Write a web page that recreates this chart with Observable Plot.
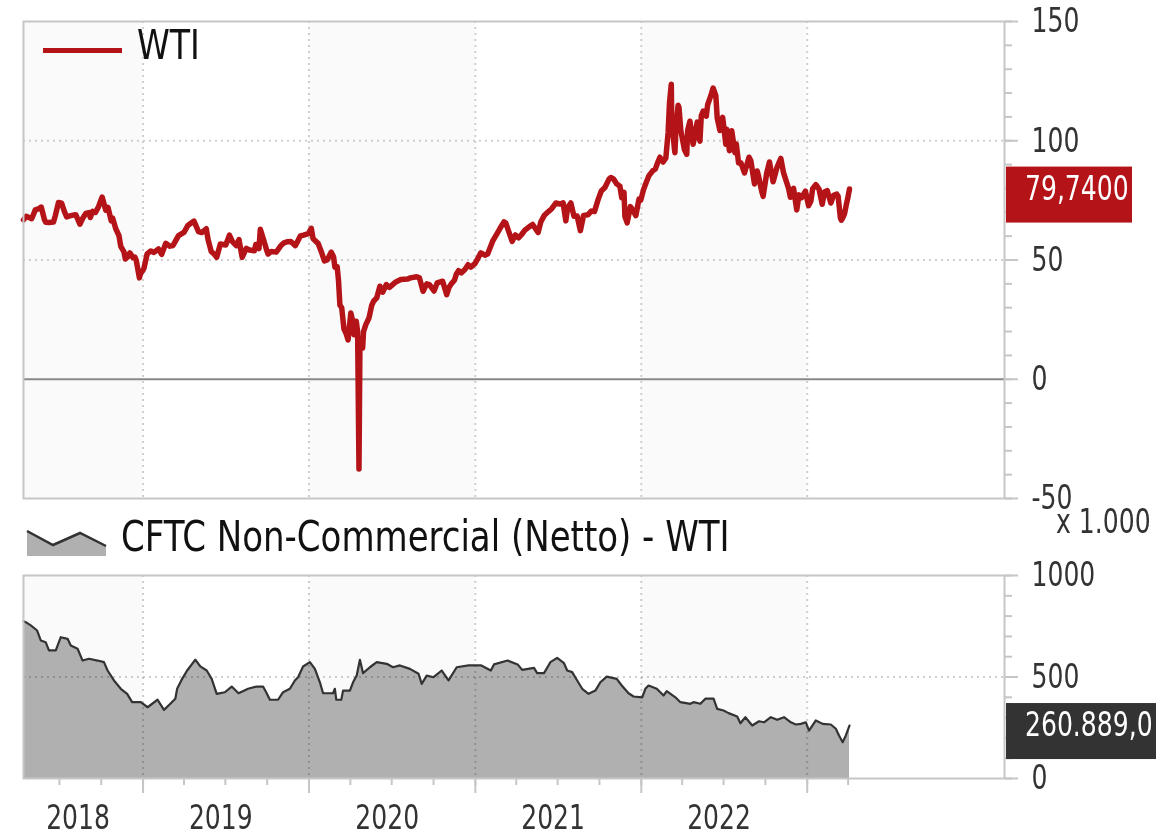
<!DOCTYPE html>
<html>
<head>
<meta charset="utf-8">
<script src="https://cdn.jsdelivr.net/npm/d3@7"></script>
<script src="https://cdn.jsdelivr.net/npm/@observablehq/plot@0.6"></script>
<style>
  body { margin: 0; background: #fff; }
  #wrap { position: relative; width: 1168px; height: 835px; overflow: hidden; background: #fff; }
  #wrap > svg { position: absolute; left: 0; }
</style>
</head>
<body>
<div id="wrap"></div>
<script>
const FONT = '"DejaVu Sans Condensed", "DejaVu Sans", sans-serif';

// ---------- data ----------
const wtiSeries = [
  ["2018-04-13",66.8],["2018-04-19",68.3],["2018-04-25",67.8],["2018-05-01",67.3],["2018-05-09",71.0],
  ["2018-05-17",71.5],["2018-05-22",72.2],["2018-05-29",67.0],["2018-06-01",65.8],["2018-06-08",65.7],
  ["2018-06-18",65.9],["2018-06-22",68.6],["2018-06-29",74.1],["2018-07-06",73.8],["2018-07-12",70.3],
  ["2018-07-17",68.1],["2018-07-24",68.5],["2018-07-31",68.8],["2018-08-06",69.0],["2018-08-15",65.0],
  ["2018-08-21",67.4],["2018-08-28",69.5],["2018-09-04",69.9],["2018-09-07",67.8],["2018-09-12",70.4],
  ["2018-09-18",69.9],["2018-09-25",72.3],["2018-10-03",76.4],["2018-10-11",70.9],["2018-10-16",72.0],
  ["2018-10-23",66.4],["2018-10-26",67.6],["2018-11-02",63.1],["2018-11-09",60.2],["2018-11-13",55.7],
  ["2018-11-20",53.4],["2018-11-23",50.4],["2018-11-29",51.5],["2018-12-03",53.0],["2018-12-10",51.0],
  ["2018-12-14",51.2],["2018-12-17",49.9],["2018-12-21",45.6],["2018-12-24",42.5],["2018-12-27",44.6],
  ["2018-12-31",45.4],
  ["2019-01-03",46.5],["2019-01-10",52.6],["2019-01-18",53.8],["2019-01-25",53.2],["2019-02-04",54.6],
  ["2019-02-11",52.4],["2019-02-20",57.0],["2019-03-01",55.8],["2019-03-08",56.1],["2019-03-20",60.2],
  ["2019-04-01",61.6],["2019-04-10",64.6],["2019-04-23",66.3],["2019-05-03",61.9],["2019-05-10",61.5],
  ["2019-05-20",63.1],["2019-05-24",58.6],["2019-05-31",53.5],["2019-06-06",52.6],["2019-06-12",51.1],
  ["2019-06-20",56.7],["2019-07-02",56.3],["2019-07-10",60.4],["2019-07-17",57.6],["2019-07-25",56.0],
  ["2019-07-31",58.6],["2019-08-07",51.1],["2019-08-16",54.9],["2019-08-23",54.2],["2019-09-03",53.9],
  ["2019-09-06",56.5],["2019-09-13",54.8],["2019-09-16",62.9],["2019-09-23",58.6],["2019-09-30",54.1],
  ["2019-10-03",52.5],["2019-10-10",53.6],["2019-10-21",53.3],["2019-11-01",56.2],["2019-11-07",57.2],
  ["2019-11-15",57.7],["2019-11-22",57.8],["2019-12-02",56.0],["2019-12-13",60.1],["2019-12-20",60.4],
  ["2019-12-31",61.1],
  ["2020-01-06",63.3],["2020-01-10",59.0],["2020-01-15",58.0],["2020-01-21",57.0],["2020-01-29",53.0],
  ["2020-02-04",49.6],["2020-02-10",50.0],["2020-02-19",53.3],["2020-02-24",51.4],["2020-02-27",47.0],
  ["2020-03-03",47.2],["2020-03-06",41.3],["2020-03-09",31.1],["2020-03-13",30.0],["2020-03-18",21.0],
  ["2020-03-23",19.0],["2020-03-27",16.5],["2020-04-02",27.8],["2020-04-06",24.5],["2020-04-09",18.7],
  ["2020-04-14",24.3],["2020-04-17",20.0],["2020-04-20",-37.6],["2020-04-22",13.0],["2020-04-24",17.0],
  ["2020-04-28",13.1],["2020-04-30",20.0],["2020-05-05",22.9],["2020-05-12",25.7],["2020-05-18",31.0],
  ["2020-05-22",32.7],["2020-05-29",34.1],["2020-06-05",39.0],["2020-06-11",36.5],["2020-06-19",39.7],
  ["2020-06-26",38.5],["2020-07-10",40.8],["2020-07-21",41.8],["2020-08-05",42.0],["2020-08-11",42.5],
  ["2020-08-25",43.0],["2020-08-31",42.5],["2020-09-08",36.9],["2020-09-16",40.0],["2020-09-22",39.7],
  ["2020-10-02",37.0],["2020-10-09",40.4],["2020-10-21",41.1],["2020-10-30",35.5],["2020-11-04",38.5],
  ["2020-11-09",40.0],["2020-11-16",41.5],["2020-11-20",44.0],["2020-11-25",45.5],["2020-12-01",44.6],
  ["2020-12-09",46.0],["2020-12-16",48.0],["2020-12-22",47.0],["2020-12-31",48.5],
  ["2021-01-06",50.5],["2021-01-13",53.0],["2021-01-22",52.0],["2021-01-28",52.5],["2021-02-08",57.9],
  ["2021-02-19",61.5],["2021-02-25",63.5],["2021-03-05",66.0],["2021-03-09",65.5],["2021-03-18",60.5],
  ["2021-03-23",57.8],["2021-03-30",60.5],["2021-04-06",59.3],["2021-04-12",60.5],["2021-04-20",62.5],
  ["2021-04-30",64.0],["2021-05-07",64.9],["2021-05-19",61.5],["2021-05-25",66.0],["2021-06-02",68.8],
  ["2021-06-10",70.2],["2021-06-18",71.5],["2021-06-27",73.9],["2021-07-06",73.5],["2021-07-13",74.0],
  ["2021-07-19",66.4],["2021-07-23",72.0],["2021-07-30",73.9],["2021-08-06",68.3],["2021-08-13",68.4],
  ["2021-08-20",62.3],["2021-08-27",68.7],["2021-09-06",69.0],["2021-09-13",70.5],["2021-09-20",70.3],
  ["2021-09-28",75.3],["2021-10-05",78.9],["2021-10-13",80.4],["2021-10-22",83.9],["2021-10-26",84.6],
  ["2021-11-01",84.0],["2021-11-08",81.9],["2021-11-15",80.9],["2021-11-19",76.1],["2021-11-24",78.4],
  ["2021-11-26",68.2],["2021-12-01",65.6],["2021-12-08",72.4],["2021-12-14",70.7],["2021-12-20",68.6],
  ["2021-12-27",75.6],["2021-12-31",75.2],
  ["2022-01-06",79.5],["2022-01-12",82.6],["2022-01-18",85.4],["2022-01-26",87.4],["2022-02-01",88.2],
  ["2022-02-07",91.3],["2022-02-11",93.1],["2022-02-18",91.1],["2022-02-24",92.8],["2022-03-01",103.4],
  ["2022-03-04",115.7],["2022-03-08",123.7],["2022-03-09",108.7],["2022-03-15",96.4],["2022-03-16",95.0],
  ["2022-03-18",104.7],["2022-03-23",114.9],["2022-03-25",113.9],["2022-03-29",104.2],["2022-04-06",96.2],
  ["2022-04-11",94.3],["2022-04-13",104.3],["2022-04-18",108.2],["2022-04-25",98.5],["2022-05-04",107.8],
  ["2022-05-10",99.8],["2022-05-13",110.5],["2022-05-17",112.4],["2022-05-24",110.3],["2022-05-27",115.1],
  ["2022-06-03",118.9],["2022-06-08",122.1],["2022-06-14",118.9],["2022-06-17",109.6],["2022-06-23",104.3],
  ["2022-06-29",109.8],["2022-07-06",98.5],["2022-07-08",104.8],["2022-07-14",95.8],["2022-07-19",104.2],
  ["2022-07-26",95.0],["2022-07-29",98.6],["2022-08-03",90.7],["2022-08-08",90.8],["2022-08-16",86.5],
  ["2022-08-26",93.1],["2022-08-30",91.6],["2022-09-07",81.9],["2022-09-13",87.3],["2022-09-16",85.1],
  ["2022-09-23",78.7],["2022-09-26",76.7],["2022-10-04",86.5],["2022-10-10",91.1],["2022-10-18",82.8],
  ["2022-10-27",89.1],["2022-11-04",92.6],["2022-11-10",86.5],["2022-11-21",80.0],["2022-11-25",76.3],
  ["2022-12-02",80.0],["2022-12-09",71.0],["2022-12-14",77.3],["2022-12-20",76.2],["2022-12-28",78.9],
  ["2023-01-04",72.8],["2023-01-09",74.6],["2023-01-13",79.9],["2023-01-20",81.6],["2023-01-27",79.7],
  ["2023-02-03",73.4],["2023-02-08",78.5],["2023-02-14",79.1],["2023-02-22",73.9],["2023-02-28",77.1],
  ["2023-03-07",77.6],["2023-03-10",76.7],["2023-03-15",67.6],["2023-03-17",66.7],["2023-03-20",67.6],
  ["2023-03-24",69.3],["2023-03-28",73.2],["2023-03-31",75.7],["2023-04-04",79.74]
];

// CFTC non-commercial net positions, in thousands of contracts
const cftcSeries = [
  ["2018-04-13",775],["2018-04-18",770],["2018-04-29",754],["2018-05-13",729],["2018-05-21",680],
  ["2018-06-01",671],["2018-06-08",631],["2018-06-23",631],["2018-07-04",696],["2018-07-19",688],
  ["2018-07-26",655],["2018-08-10",639],["2018-08-21",581],["2018-09-04",590],["2018-09-23",581],
  ["2018-10-07",573],["2018-10-15",532],["2018-10-29",483],["2018-11-13",442],["2018-11-27",417],
  ["2018-12-08",376],["2018-12-27",376],
  ["2019-01-11",351],["2019-02-02",388],["2019-02-16",338],["2019-03-02",368],["2019-03-13",393],
  ["2019-03-17",442],["2019-03-28",491],["2019-04-08",532],["2019-04-19",565],["2019-04-26",585],
  ["2019-05-07",552],["2019-05-21",532],["2019-06-01",491],["2019-06-12",417],["2019-06-30",425],
  ["2019-07-15",453],["2019-07-30",420],["2019-08-20",442],["2019-09-08",453],["2019-09-22",453],
  ["2019-09-30",420],["2019-10-07",388],["2019-10-25",388],["2019-11-05",425],["2019-11-20",442],
  ["2019-12-01",483],["2019-12-08",499],["2019-12-19",552],
  ["2020-01-03",573],["2020-01-14",540],["2020-01-25",474],["2020-02-01",420],["2020-02-23",420],
  ["2020-02-27",442],["2020-03-01",388],["2020-03-12",388],["2020-03-16",433],["2020-03-31",433],
  ["2020-04-07",474],["2020-04-15",507],["2020-04-22",585],["2020-04-29",519],["2020-05-14",548],
  ["2020-05-29",573],["2020-06-20",565],["2020-07-04",548],["2020-07-19",557],["2020-08-10",540],
  ["2020-08-29",516],["2020-09-05",466],["2020-09-16",507],["2020-10-01",499],["2020-10-19",532],
  ["2020-11-03",483],["2020-11-21",548],["2020-12-17",557],
  ["2021-01-14",557],["2021-02-04",532],["2021-02-11",562],["2021-03-13",581],["2021-04-04",562],
  ["2021-04-14",535],["2021-05-10",545],["2021-05-17",519],["2021-06-01",519],["2021-06-15",573],
  ["2021-06-30",594],["2021-07-15",568],["2021-07-22",532],["2021-08-02",524],["2021-08-13",483],
  ["2021-08-24",442],["2021-09-07",417],["2021-09-22",433],["2021-10-03",474],["2021-10-17",502],
  ["2021-11-08",491],["2021-11-19",458],["2021-12-04",420],["2021-12-15",404],
  ["2022-01-03",400],["2022-01-10",442],["2022-01-17",458],["2022-02-04",442],["2022-02-19",409],
  ["2022-02-26",430],["2022-03-17",400],["2022-03-28",376],["2022-04-19",368],["2022-04-26",376],
  ["2022-05-11",368],["2022-05-22",393],["2022-06-09",393],["2022-06-17",343],["2022-07-01",335],
  ["2022-07-12",322],["2022-07-31",305],["2022-08-07",272],["2022-08-18",302],["2022-09-02",261],
  ["2022-09-17",282],["2022-09-28",277],["2022-10-13",302],["2022-10-27",289],["2022-11-11",302],
  ["2022-11-26",277],["2022-12-07",266],["2022-12-18",269],["2022-12-29",277],
  ["2023-01-05",236],["2023-01-20",286],["2023-02-04",269],["2023-02-22",266],["2023-03-05",245],
  ["2023-03-12",212],["2023-03-20",179],["2023-03-27",212],["2023-04-04",260.889]
];

const xDomain = ["2018-04-13", "2024-03-10"];
const yearBoundaries = ["2019-01-01","2020-01-01","2021-01-01","2022-01-01","2023-01-01"];
const shadedYears = [["2018-01-01","2019-01-01"],["2020-01-01","2021-01-01"],["2022-01-01","2023-01-01"]];
const yearLabelDates = ["2018-08-22","2019-07-02","2020-07-02","2021-07-02","2022-07-02"];
const yearLabels = ["2018","2019","2020","2021","2022"];
const quarterRange = ["2018-07-01","2023-04-02"];

const wtiTicks = [-50, 0, 50, 100, 150];
const wtiTickLabels = ["-50", "0", "50", "100", "150"];
const wtiGrid = [50, 100];
const cftcTicks = [0, 500, 1000];
const cftcTickLabels = ["0", "500", "1000"];
const cftcGrid = [500];

const wtiLast = 79.74, wtiLastLabel = "79,7400";
const cftcLast = 260.889, cftcLastLabel = "260.889,0";
const wtiName = "WTI";
const cftcName = "CFTC Non-Commercial (Netto) - WTI";
const cftcUnit = "x 1.000";

// ---------- styling ----------
const RED = "#b41418";
const FRAME = "#c6c6c6";
const GRID = "#cfcfcf";
const SHADE = "#fafafa";
const TXT = "#333333";

const D = s => new Date(s);
const xScale = {type: "utc", domain: xDomain.map(D)};

const common = {
  width: 1168, marginLeft: 23, marginRight: 164,
  style: {fontFamily: FONT, fontSize: "34px", color: TXT, background: "transparent", overflow: "visible"}
};

const topPlot = Plot.plot({
  ...common,
  height: 540, marginTop: 21, marginBottom: 42,
  x: {...xScale, axis: null},
  y: {domain: [-50, 150], axis: null},
  marks: [
    Plot.rect(shadedYears, {x1: d => D(d[0]), x2: d => D(d[1]), fill: SHADE, clip: true}),
    Plot.ruleY(wtiGrid, {stroke: GRID, strokeWidth: 2, strokeDasharray: "2,4"}),
    Plot.ruleX(yearBoundaries, {x: D, stroke: GRID, strokeWidth: 2, strokeDasharray: "2,4"}),
    Plot.ruleY([0], {stroke: "#888", strokeWidth: 2}),
    Plot.lineY(wtiSeries, {x: d => D(d[0]), y: d => d[1], stroke: RED, strokeWidth: 5.5, strokeLinejoin: "round", strokeLinecap: "round"}),
    Plot.axisY(d3.range(-50, 151, 10), {anchor: "right", tickSize: 7, tickFormat: () => "", stroke: FRAME, strokeWidth: 2, label: null}),
    Plot.axisY(wtiTicks, {anchor: "right", tickSize: 13, tickPadding: 14, tickFormat: d => wtiTickLabels[wtiTicks.indexOf(d)], stroke: FRAME, strokeWidth: 2, fill: TXT, label: null}),
    Plot.frame({stroke: FRAME, strokeWidth: 2})
  ]
});

const bottomPlot = Plot.plot({
  ...common,
  height: 295, marginTop: 35, marginBottom: 57,
  x: {...xScale, axis: null},
  y: {domain: [0, 1000], axis: null},
  marks: [
    Plot.rect(shadedYears, {x1: d => D(d[0]), x2: d => D(d[1]), fill: SHADE, clip: true}),
    Plot.areaY(cftcSeries, {x: d => D(d[0]), y: d => d[1], fill: "#b0b0b0"}),
    Plot.ruleY(cftcGrid, {stroke: GRID, strokeWidth: 2, strokeDasharray: "2,4", mixBlendMode: "multiply"}),
    Plot.ruleX(yearBoundaries, {x: D, stroke: GRID, strokeWidth: 2, strokeDasharray: "2,4", mixBlendMode: "multiply"}),
    Plot.lineY(cftcSeries, {x: d => D(d[0]), y: d => d[1], stroke: "#333", strokeWidth: 2.2, strokeLinejoin: "round"}),
    Plot.axisY(d3.range(0, 1001, 100), {anchor: "right", tickSize: 7, tickFormat: () => "", stroke: FRAME, strokeWidth: 2, label: null}),
    Plot.axisY(cftcTicks, {anchor: "right", tickSize: 13, tickPadding: 14, tickFormat: d => cftcTickLabels[cftcTicks.indexOf(d)], stroke: FRAME, strokeWidth: 2, fill: TXT, label: null}),
    Plot.axisX(d3.utcMonth.every(3).range(...quarterRange.map(D)), {anchor: "bottom", tickSize: 7, tickFormat: () => "", stroke: FRAME, strokeWidth: 2, label: null}),
    Plot.axisX(yearBoundaries.map(D), {anchor: "bottom", tickSize: 15, tickFormat: () => "", stroke: FRAME, strokeWidth: 2, label: null}),
    Plot.axisX(yearLabelDates.map(D), {anchor: "bottom", tickSize: 0, tickPadding: 26, dx: -5, tickFormat: d => yearLabels[yearLabelDates.map(D).findIndex(e => +e === +d)], fill: TXT, label: null}),
    Plot.frame({stroke: FRAME, strokeWidth: 2})
  ]
});

const wrap = document.getElementById("wrap");
topPlot.style.top = "0px";
bottomPlot.style.top = "540px";
wrap.appendChild(topPlot);
wrap.appendChild(bottomPlot);

// ---------- overlay: legends and last-value boxes ----------
const ov = d3.select(wrap).append("svg")
  .attr("width", 1168).attr("height", 835)
  .style("position", "absolute").style("top", "0px").style("left", "0px")
  .style("font-family", FONT);

// legend 1
ov.append("line").attr("x1", 43).attr("x2", 122).attr("y1", 50.5).attr("y2", 50.5)
  .attr("stroke", RED).attr("stroke-width", 5);
ov.append("text").attr("class", "leg1").attr("x", 137).attr("y", 59).attr("font-size", 41).attr("fill", "#111").text(wtiName);

// legend 2
ov.append("path").attr("d", "M27,531 L53,545 L80,533 L106,546 L106,556 L27,556 Z").attr("fill", "#b0b0b0");
ov.append("path").attr("d", "M27,531 L53,545 L80,533 L106,546").attr("fill", "none").attr("stroke", "#333").attr("stroke-width", 2.5);
ov.append("text").attr("class", "leg2").attr("x", 121).attr("y", 551).attr("font-size", 42).attr("fill", "#111").text(cftcName);

// unit label
ov.append("text").attr("class", "ax").attr("x", 1056).attr("y", 533).attr("font-size", 34).attr("fill", TXT).text(cftcUnit);

// last-value boxes
const xRight = topPlot.scale("x").range[1];
function valueBox(yPix, label, color, boxW) {
  ov.append("rect").attr("x", xRight + 2).attr("y", yPix - 22).attr("width", boxW).attr("height", 56).attr("fill", color);
  ov.append("text").attr("class", "ax").attr("x", xRight + 21).attr("y", yPix + 11).attr("font-size", 34).attr("fill", "#fff").text(label);
}
valueBox(topPlot.scale("y").apply(wtiLast), wtiLastLabel, RED, 126);
valueBox(540 + bottomPlot.scale("y").apply(cftcLast), cftcLastLabel, "#333333", 150);

// narrow the glyphs horizontally (the reference uses a condensed face)
function condense(texts, factor) {
  texts.forEach(t => {
    const L = t.getComputedTextLength();
    if (L > 0) {
      t.setAttribute("textLength", (L * factor).toFixed(1));
      t.setAttribute("lengthAdjust", "spacingAndGlyphs");
    }
  });
}
condense([...topPlot.querySelectorAll("text"), ...bottomPlot.querySelectorAll("text"), ...ov.node().querySelectorAll("text.ax")], 0.82);
condense([...ov.node().querySelectorAll("text.leg1")], 0.9);
condense([...ov.node().querySelectorAll("text.leg2")], 0.9);
</script>
</body>
</html>
